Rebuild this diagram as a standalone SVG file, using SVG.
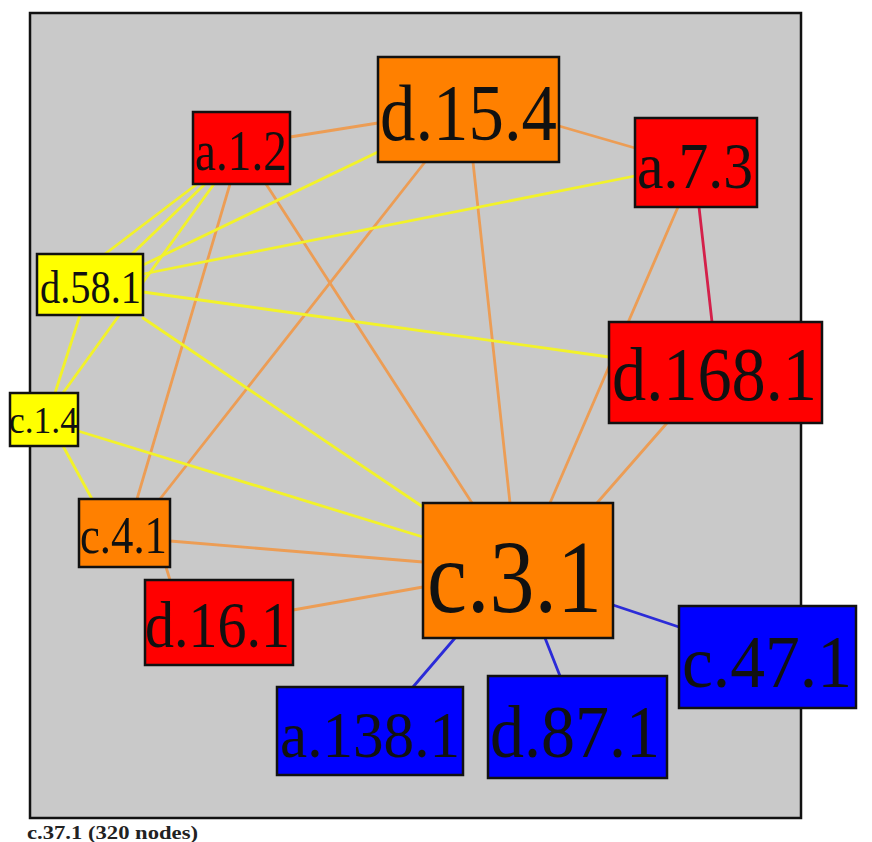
<svg xmlns="http://www.w3.org/2000/svg" width="872" height="842" viewBox="0 0 872 842">
<style>
.bg{fill:#c9c9c9;stroke:#111;stroke-width:2.5}
.n rect{stroke:#111;stroke-width:2.5}
.n text{font-family:"Liberation Serif","Times New Roman",serif;fill:#111;text-anchor:start}
.o{fill:#ff8000}.r{fill:#ff0000}.y{fill:#ffff00}.b{fill:#0000ff}
.e line{fill:none;stroke-width:2.8;stroke-linecap:round}
.eo{stroke:#ec9d55}.ey{stroke:#f2f22a}.eb{stroke:#2b2bd8}.er{stroke:#d4204a}
.cap{font-family:"Liberation Serif","Times New Roman",serif;font-weight:bold;font-size:18px;fill:#222}
</style>
<rect class="bg" x="30" y="13" width="771" height="805"/>
<g id="edges" class="e">
<line class="eo" x1="290" y1="137" x2="378" y2="123"/>
<line class="eo" x1="559" y1="126" x2="635" y2="148"/>
<line class="eo" x1="230" y1="184" x2="137" y2="499"/>
<line class="eo" x1="425" y1="162" x2="160" y2="499"/>
<line class="eo" x1="266" y1="184" x2="472" y2="503"/>
<line class="eo" x1="473" y1="162" x2="510" y2="503"/>
<line class="eo" x1="678" y1="207" x2="550" y2="503"/>
<line class="eo" x1="667" y1="423" x2="597" y2="503"/>
<line class="eo" x1="170" y1="541" x2="423" y2="562"/>
<line class="eo" x1="293" y1="610" x2="423" y2="587"/>
<line class="eo" x1="166" y1="567" x2="170" y2="580"/>
<line class="er" x1="699" y1="207" x2="712" y2="322"/>
<line class="ey" x1="197" y1="184" x2="105" y2="254"/>
<line class="ey" x1="205" y1="184" x2="132" y2="254"/>
<line class="ey" x1="214" y1="184" x2="63" y2="393"/>
<line class="ey" x1="80" y1="315" x2="55" y2="393"/>
<line class="ey" x1="63" y1="446" x2="92" y2="499"/>
<line class="ey" x1="143" y1="265" x2="378" y2="152"/>
<line class="ey" x1="143" y1="274" x2="635" y2="176"/>
<line class="ey" x1="143" y1="292" x2="609" y2="357"/>
<line class="ey" x1="143" y1="318" x2="423" y2="507"/>
<line class="ey" x1="78" y1="431" x2="423" y2="537"/>
<line class="eb" x1="455" y1="638" x2="413" y2="687"/>
<line class="eb" x1="545" y1="638" x2="560" y2="676"/>
<line class="eb" x1="613" y1="605" x2="679" y2="627"/>
</g>
<g id="a.1.2" class="n"><rect class="r" x="193" y="112" width="97" height="72"/><text x="195" y="170" font-size="56" textLength="92" lengthAdjust="spacingAndGlyphs">a.1.2</text></g>
<g id="d.15.4" class="n"><rect class="o" x="378" y="57" width="181" height="105"/><text x="380" y="140" font-size="81" textLength="177" lengthAdjust="spacingAndGlyphs">d.15.4</text></g>
<g id="a.7.3" class="n"><rect class="r" x="635" y="118" width="122" height="89"/><text x="637" y="188" font-size="66" textLength="116" lengthAdjust="spacingAndGlyphs">a.7.3</text></g>
<g id="d.58.1" class="n"><rect class="y" x="37" y="254" width="106" height="61"/><text x="40" y="303" font-size="46" textLength="101" lengthAdjust="spacingAndGlyphs">d.58.1</text></g>
<g id="d.168.1" class="n"><rect class="r" x="609" y="322" width="213" height="101"/><text x="612" y="400" font-size="77" textLength="205" lengthAdjust="spacingAndGlyphs">d.168.1</text></g>
<g id="c.1.4" class="n"><rect class="y" x="10" y="393" width="68" height="53"/><text x="9" y="433" font-size="37" textLength="69" lengthAdjust="spacingAndGlyphs">c.1.4</text></g>
<g id="c.4.1" class="n"><rect class="o" x="79" y="499" width="91" height="68"/><text x="80" y="553" font-size="53" textLength="87" lengthAdjust="spacingAndGlyphs">c.4.1</text></g>
<g id="d.16.1" class="n"><rect class="r" x="145" y="580" width="148" height="85"/><text x="145" y="647" font-size="65" textLength="145" lengthAdjust="spacingAndGlyphs">d.16.1</text></g>
<g id="c.3.1" class="n"><rect class="o" x="423" y="503" width="190" height="135"/><text x="427" y="612" font-size="104" textLength="175" lengthAdjust="spacingAndGlyphs">c.3.1</text></g>
<g id="a.138.1" class="n"><rect class="b" x="277" y="687" width="186" height="88"/><text x="280" y="757" font-size="65" textLength="180" lengthAdjust="spacingAndGlyphs">a.138.1</text></g>
<g id="d.87.1" class="n"><rect class="b" x="488" y="676" width="179" height="102"/><text x="490" y="757" font-size="74" textLength="170" lengthAdjust="spacingAndGlyphs">d.87.1</text></g>
<g id="c.47.1" class="n"><rect class="b" x="679" y="606" width="177" height="102"/><text x="682" y="687" font-size="74" textLength="170" lengthAdjust="spacingAndGlyphs">c.47.1</text></g>
<text class="cap" x="27" y="839" textLength="171" lengthAdjust="spacingAndGlyphs">c.37.1 (320 nodes)</text>
</svg>
